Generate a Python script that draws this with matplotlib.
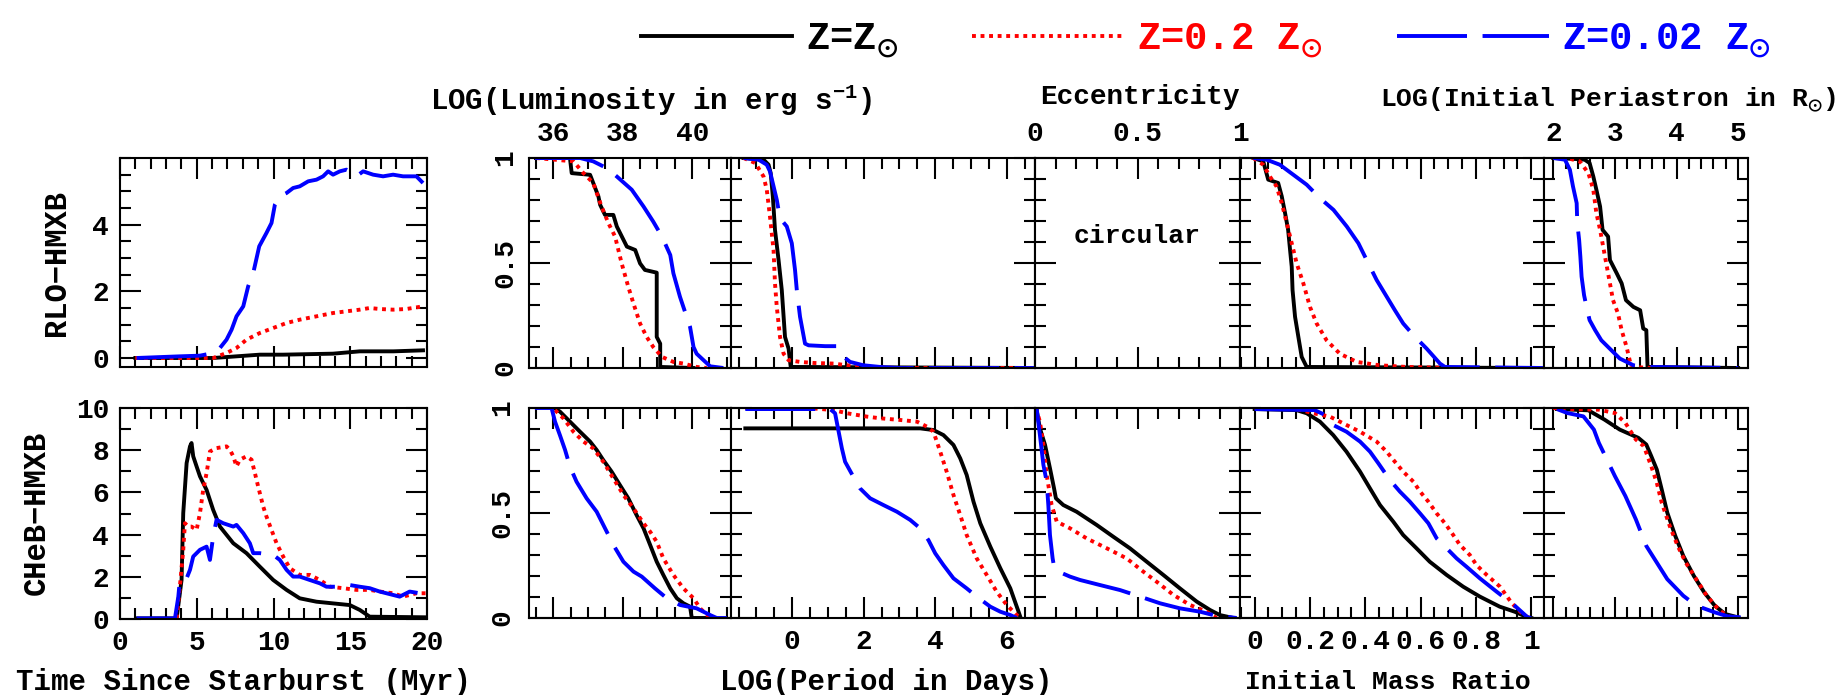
import matplotlib
matplotlib.use("Agg")
import matplotlib.pyplot as plt
from matplotlib.ticker import MultipleLocator, FixedLocator, FuncFormatter
from matplotlib.lines import Line2D

plt.rcParams['font.family'] = ['Liberation Mono', 'DejaVu Sans Mono']
plt.rcParams['font.weight'] = 'bold'
plt.rcParams['mathtext.fontset'] = 'custom'
plt.rcParams['mathtext.rm'] = 'Liberation Mono:bold'
plt.rcParams['mathtext.default'] = 'regular'

# ---------------- data ----------------
# time since starburst, RLO-HMXB numbers
t_rlo_x_solar = [1.0, 6.07, 9.11, 10.63, 13.88, 15.62, 17.82, 19.74]
t_rlo_y_solar = [0, 0, 0.1, 0.1, 0.13, 0.2, 0.2, 0.23]
t_rlo_x_02 = [1.0, 4.99, 6.07, 6.94, 7.59, 8.24, 9.11, 9.98, 10.85, 11.71, 12.80,
              13.88, 14.75, 15.62, 16.27, 16.92, 17.79, 18.66, 19.74]
t_rlo_y_02 = [0, 0, 0, 0.15, 0.30, 0.55, 0.75, 0.90, 1.05, 1.15, 1.25,
              1.35, 1.40, 1.45, 1.50, 1.47, 1.45, 1.47, 1.55]
t_rlo_x_002 = [1.08, 3.90, 5.21, 6.07, 6.51, 6.94, 7.27, 7.59, 8.03, 8.35, 8.68, 9.07,
               9.54, 9.87, 10.09, 10.41, 10.85, 11.28, 11.71, 12.26, 12.80, 13.23, 13.56,
               13.88, 14.32, 14.75, 15.18, 15.40, 15.84, 16.49, 17.14, 17.79, 18.44,
               19.31, 19.74]
t_rlo_y_002 = [0.0, 0.05, 0.07, 0.15, 0.30, 0.55, 0.85, 1.25, 1.55, 2.15, 2.55, 3.35,
               3.75, 4.05, 4.6, 4.85, 4.95, 5.10, 5.15, 5.30, 5.35, 5.45, 5.60,
               5.50, 5.60, 5.65, 5.55, 5.45, 5.60, 5.50, 5.45, 5.50, 5.45,
               5.45, 5.25]

# time since starburst, CHeB-HMXB numbers
t_cheb_x_solar = [1.08, 3.69, 4.01, 4.12, 4.34, 4.56, 4.66, 4.77, 4.99, 5.21, 5.64, 6.07,
                  6.51, 7.38, 8.24, 9.11, 9.98, 10.85, 11.71, 12.80, 13.88, 14.97, 15.62,
                  16.27, 19.96]
t_cheb_y_solar = [0.03, 0.03, 1.85, 5.02, 7.39, 8.18, 8.34, 7.71, 7.23, 6.76, 6.12, 5.17,
                  4.38, 3.59, 3.12, 2.48, 1.85, 1.38, 0.98, 0.82, 0.74, 0.66, 0.43,
                  0.11, 0.08]
t_cheb_x_02 = [3.69, 3.90, 4.12, 4.23, 4.45, 4.66, 4.99, 5.21, 5.42, 5.64, 5.86, 6.29, 6.94,
               7.16, 7.38, 7.59, 7.81, 8.24, 8.57, 8.79, 9.00, 9.33, 9.54, 9.87, 10.20,
               10.63, 11.06, 11.71, 12.36, 13.02, 13.67, 14.53, 15.40, 16.27, 16.92,
               17.79, 18.44, 19.31, 19.96]
t_cheb_y_02 = [0.03, 1.53, 3.28, 4.54, 4.38, 4.38, 4.22, 5.02, 6.12, 6.91, 7.94, 8.10, 8.18,
               8.02, 7.71, 7.23, 7.55, 7.71, 7.55, 6.91, 6.28, 5.33, 4.86, 4.22, 3.59,
               2.96, 2.41, 2.09, 2.09, 1.85, 1.53, 1.46, 1.38, 1.38, 1.30,
               1.22, 1.06, 1.22, 1.22]
t_cheb_x_002 = [1.08, 3.58, 3.80, 3.90, 4.12, 4.34, 4.56, 4.77, 5.21, 5.64, 5.86, 6.07,
                6.29, 6.72, 7.38, 7.59, 8.03, 8.46, 8.68, 9.11, 9.98, 10.41, 10.85, 11.28,
                11.71, 12.36, 13.02, 13.45, 14.10, 14.97, 15.62, 16.27, 16.92, 17.79,
                18.22, 18.87, 19.52, 19.96]
t_cheb_y_002 = [0.03, 0.03, 1.06, 1.85, 1.93, 1.93, 2.33, 2.96, 3.28, 3.43, 2.80, 3.91,
                4.70, 4.54, 4.38, 4.46, 4.07, 3.59, 3.12, 3.12, 3.04, 2.80, 2.33, 2.01,
                2.01, 1.85, 1.69, 1.53, 1.53, 1.61, 1.53, 1.46, 1.30, 1.14,
                1.06, 1.30, 1.22, 1.14]

# cumulative fractions, RLO-HMXB row
lum_rlo_x_solar = [35.5, 36.48, 36.53, 37.06, 37.30, 37.35, 37.49, 37.73, 37.83, 38.12, 38.36,
                   38.5, 38.64, 38.98, 38.98, 39.08, 39.08, 40.04]
lum_rlo_y_solar = [1.0, 1.0, 0.928, 0.920, 0.817, 0.777, 0.729, 0.729, 0.674, 0.578, 0.562,
                   0.498, 0.467, 0.454, 0.148, 0.116, 0.005, 0.0]
lum_rlo_x_02 = [35.5, 36.58, 36.87, 37.15, 37.39, 37.59, 37.78, 37.97, 38.16, 38.31, 38.5,
                38.69, 38.88, 39.13, 39.46, 39.75, 40.13, 40.42]
lum_rlo_y_02 = [1.0, 0.984, 0.928, 0.881, 0.769, 0.689, 0.626, 0.498, 0.387, 0.307, 0.212,
                0.148, 0.100, 0.053, 0.029, 0.021, 0.005, 0.0]
lum_rlo_x_002 = [35.47, 36.77, 37.15, 37.54, 37.83, 38.26, 38.6, 38.88, 39.13, 39.37, 39.46,
                 39.65, 39.94, 40.04, 40.13, 40.33, 40.52, 40.9]
lum_rlo_y_002 = [1.0, 1.0, 0.984, 0.952, 0.912, 0.849, 0.769, 0.697, 0.626, 0.538, 0.451,
                 0.339, 0.196, 0.100, 0.068, 0.037, 0.008, 0.0]

per_rlo_x_solar = [-1.36, -0.80, -0.66, -0.60, -0.54, -0.48, -0.38, -0.29, -0.20, -0.10,
                   -0.04, 6.79]
per_rlo_y_solar = [1.0, 0.992, 0.968, 0.928, 0.817, 0.658, 0.514, 0.371, 0.148, 0.092,
                   0.005, 0.0]
per_rlo_x_02 = [-1.36, -1.03, -0.80, -0.71, -0.62, -0.52, -0.48, -0.43, -0.34, -0.24, -0.10,
                0.22, 0.60, 1.16, 1.53, 2.09, 2.93, 6.79]
per_rlo_y_02 = [1.0, 0.976, 0.912, 0.849, 0.721, 0.562, 0.403, 0.291, 0.148, 0.068, 0.037,
                0.029, 0.024, 0.021, 0.013, 0.005, 0.0, 0.0]
per_rlo_x_002 = [-1.36, -0.94, -0.71, -0.62, -0.52, -0.43, -0.34, -0.15, -0.01, 0.08, 0.13,
                 0.22, 0.36, 0.46, 0.92, 1.25, 1.44, 1.62, 1.99, 2.46, 3.0, 6.79]
per_rlo_y_002 = [1.0, 0.992, 0.968, 0.936, 0.865, 0.801, 0.713, 0.674, 0.594, 0.467, 0.371,
                 0.244, 0.116, 0.108, 0.104, 0.104, 0.053, 0.029, 0.013, 0.005, 0.0, 0.0]

q_rlo_x_solar = [-0.005, 0.031, 0.049, 0.085, 0.098, 0.110, 0.121, 0.128, 0.134, 0.137,
                 0.146, 0.158, 0.170, 0.188, 1.0]
q_rlo_y_solar = [1.0, 0.984, 0.897, 0.881, 0.817, 0.737, 0.658, 0.562, 0.482, 0.371,
                 0.244, 0.148, 0.053, 0.005, 0.0]
q_rlo_x_02 = [-0.005, 0.031, 0.055, 0.079, 0.098, 0.116, 0.134, 0.152, 0.176, 0.200, 0.224,
              0.260, 0.308, 0.369, 0.451, 0.549, 0.718]
q_rlo_y_02 = [1.0, 0.968, 0.912, 0.865, 0.785, 0.690, 0.594, 0.498, 0.403, 0.291, 0.212,
              0.132, 0.068, 0.029, 0.013, 0.005, 0.0]
q_rlo_x_002 = [-0.005, 0.043, 0.091, 0.140, 0.188, 0.236, 0.285, 0.333, 0.375, 0.405, 0.441,
               0.507, 0.537, 0.574, 0.622, 0.670, 0.688, 1.046]
q_rlo_y_002 = [1.0, 0.992, 0.968, 0.920, 0.873, 0.809, 0.753, 0.674, 0.594, 0.514, 0.419,
               0.275, 0.212, 0.156, 0.092, 0.021, 0.005, 0.0]

rp_rlo_x_solar = [2.0, 2.38, 2.51, 2.59, 2.65, 2.70, 2.76, 2.80, 2.89, 2.92, 3.03, 3.11,
                  3.18, 3.30, 3.41, 3.46, 3.51, 3.53, 5.0]
rp_rlo_y_solar = [1.0, 0.995, 0.992, 0.976, 0.912, 0.849, 0.769, 0.658, 0.626, 0.514, 0.451,
                  0.403, 0.323, 0.291, 0.275, 0.188, 0.180, 0.005, 0.0]
rp_rlo_x_02 = [2.0, 2.22, 2.43, 2.57, 2.65, 2.70, 2.76, 2.81, 2.86, 2.92, 2.97, 3.05, 3.11,
               3.19, 3.24, 3.27, 3.62, 4.3]
rp_rlo_y_02 = [1.0, 1.0, 0.984, 0.928, 0.849, 0.737, 0.658, 0.578, 0.498, 0.403, 0.323,
               0.260, 0.180, 0.100, 0.037, 0.005, 0.0, 0.0]
rp_rlo_x_002 = [2.0, 2.19, 2.27, 2.32, 2.38, 2.39, 2.42, 2.44, 2.46, 2.50, 2.54, 2.59, 2.68,
                2.78, 2.89, 3.08, 3.30, 3.51, 5.0]
rp_rlo_y_002 = [1.0, 0.992, 0.944, 0.865, 0.785, 0.690, 0.610, 0.530, 0.435, 0.347, 0.291,
                0.228, 0.180, 0.132, 0.100, 0.045, 0.013, 0.005, 0.0]

# cumulative fractions, CHeB-HMXB row
lum_cheb_x_solar = [36.05, 36.19, 36.48, 36.77, 37.06, 37.25, 37.44, 37.68, 37.92, 38.16,
                    38.40, 38.60, 38.79, 38.98, 39.17, 39.37, 39.56, 39.75, 39.94, 39.99, 40.5]
lum_cheb_y_solar = [0.998, 0.983, 0.935, 0.887, 0.840, 0.800, 0.752, 0.697, 0.633, 0.570,
                    0.490, 0.427, 0.348, 0.268, 0.205, 0.141, 0.094, 0.070, 0.054, 0.0, 0.0]
lum_cheb_x_02 = [36.05, 36.29, 36.58, 36.87, 37.15, 37.44, 37.73, 38.02, 38.31, 38.60, 38.79,
                 38.98, 39.17, 39.46, 39.75, 40.04, 40.23, 40.52]
lum_cheb_y_02 = [0.990, 0.951, 0.887, 0.840, 0.808, 0.744, 0.665, 0.586, 0.522, 0.451, 0.411,
                 0.363, 0.284, 0.205, 0.141, 0.094, 0.046, 0.0]
lum_cheb_x_002 = [35.47, 35.95, 36.05, 36.19, 36.34, 36.48, 36.67, 36.96, 37.25, 37.54, 37.73,
                  38.02, 38.31, 38.55, 38.93, 39.27, 39.65, 40.13, 40.52, 40.71, 41.0]
lum_cheb_y_002 = [1.0, 1.0, 0.935, 0.871, 0.800, 0.721, 0.649, 0.570, 0.506, 0.411, 0.348,
                  0.268, 0.221, 0.197, 0.141, 0.094, 0.062, 0.046, 0.014, 0.0, 0.0]

per_cheb_x_solar = [-1.31, 3.58, 3.95, 4.23, 4.51, 4.70, 4.88, 5.07, 5.26, 5.54, 5.82, 6.10,
                    6.23, 6.33, 6.39]
per_cheb_y_solar = [0.903, 0.903, 0.895, 0.871, 0.824, 0.760, 0.681, 0.554, 0.451, 0.340,
                    0.237, 0.141, 0.078, 0.030, 0.0]
per_cheb_x_02 = [-1.31, 0.60, 1.16, 1.53, 2.09, 2.46, 3.02, 3.49, 3.77, 3.95, 4.14, 4.32, 4.51,
                 4.70, 4.88, 5.16, 5.44, 5.72, 6.00, 6.28, 6.42]
per_cheb_y_02 = [1.0, 0.998, 0.990, 0.975, 0.959, 0.951, 0.943, 0.935, 0.911, 0.887, 0.792,
                 0.697, 0.586, 0.490, 0.395, 0.284, 0.205, 0.125, 0.062, 0.014, 0.0]
per_cheb_x_002 = [-1.31, 1.06, 1.20, 1.30, 1.39, 1.48, 1.71, 1.90, 2.18, 2.55, 2.93, 3.30,
                  3.58, 3.81, 4.00, 4.23, 4.51, 4.88, 5.16, 5.54, 5.82, 6.10, 6.28]
per_cheb_y_002 = [0.995, 0.995, 0.975, 0.887, 0.808, 0.744, 0.673, 0.617, 0.570, 0.538, 0.506,
                  0.467, 0.427, 0.371, 0.308, 0.252, 0.189, 0.141, 0.102, 0.054, 0.030,
                  0.014, 0.0]

ecc_cheb_x_solar = [0.008, 0.024, 0.049, 0.073, 0.093, 0.102, 0.138, 0.203, 0.301, 0.382,
                    0.463, 0.545, 0.626, 0.707, 0.789, 0.854, 0.902, 0.967]
ecc_cheb_y_solar = [0.990, 0.903, 0.824, 0.713, 0.617, 0.570, 0.538, 0.506, 0.443, 0.387,
                    0.332, 0.268, 0.205, 0.141, 0.078, 0.038, 0.014, 0.0]
ecc_cheb_x_02 = [0.005, 0.024, 0.041, 0.057, 0.081, 0.106, 0.171, 0.252, 0.350, 0.447, 0.528,
                 0.593, 0.675, 0.756, 0.837, 0.886]
ecc_cheb_y_02 = [0.998, 0.935, 0.824, 0.681, 0.538, 0.459, 0.427, 0.379, 0.332, 0.284, 0.221,
                 0.173, 0.110, 0.062, 0.030, 0.0]
ecc_cheb_x_002 = [0.008, 0.024, 0.041, 0.057, 0.065, 0.073, 0.086, 0.093, 0.114, 0.171, 0.220,
                  0.317, 0.415, 0.512, 0.610, 0.707, 0.805, 0.870, 0.984]
ecc_cheb_y_002 = [0.998, 0.871, 0.729, 0.649, 0.538, 0.395, 0.284, 0.244, 0.221, 0.197, 0.181,
                  0.157, 0.133, 0.102, 0.070, 0.046, 0.030, 0.014, 0.0]

q_cheb_x_solar = [0.0, 0.151, 0.188, 0.236, 0.284, 0.332, 0.381, 0.417, 0.453, 0.501, 0.537,
                  0.585, 0.633, 0.694, 0.754, 0.814, 0.862, 0.886, 0.94, 0.987, 1.0]
q_cheb_y_solar = [0.995, 0.990, 0.975, 0.935, 0.871, 0.792, 0.697, 0.617, 0.538, 0.459, 0.395,
                  0.332, 0.268, 0.205, 0.149, 0.102, 0.070, 0.054, 0.030, 0.003, 0.0]
q_cheb_x_02 = [0.0, 0.151, 0.212, 0.272, 0.332, 0.381, 0.441, 0.477, 0.507, 0.537, 0.574,
               0.598, 0.628, 0.658, 0.688, 0.718, 0.742, 0.778, 0.802, 0.839, 0.887, 0.93,
               0.96, 0.99]
q_cheb_y_02 = [1.0, 0.995, 0.975, 0.959, 0.919, 0.887, 0.840, 0.792, 0.744, 0.697, 0.649,
               0.602, 0.554, 0.498, 0.451, 0.395, 0.348, 0.300, 0.252, 0.205, 0.149, 0.07,
               0.03, 0.0]
q_cheb_x_002 = [0.0, 0.217, 0.254, 0.284, 0.332, 0.381, 0.417, 0.447, 0.489, 0.525, 0.561,
                0.598, 0.628, 0.658, 0.694, 0.730, 0.766, 0.814, 0.875, 0.940, 0.987, 1.0]
q_cheb_y_002 = [0.995, 0.990, 0.967, 0.919, 0.887, 0.840, 0.792, 0.737, 0.657, 0.602, 0.554,
                0.498, 0.451, 0.379, 0.332, 0.284, 0.244, 0.189, 0.125, 0.059, 0.003, 0.0]

rp_cheb_x_solar = [2.06, 2.57, 2.83, 3.08, 3.38, 3.51, 3.59, 3.68, 3.76, 3.85, 3.98, 4.11,
                   4.28, 4.45, 4.62, 4.79, 5.00]
rp_cheb_y_solar = [0.995, 0.989, 0.945, 0.897, 0.858, 0.826, 0.771, 0.707, 0.612, 0.502,
                   0.391, 0.296, 0.201, 0.122, 0.059, 0.019, 0.003]
rp_cheb_x_02 = [2.0, 2.23, 2.74, 3.00, 3.17, 3.34, 3.47, 3.59, 3.68, 3.76, 3.89, 4.02, 4.15,
                4.32, 4.49, 4.70, 4.87]
rp_cheb_y_02 = [1.0, 0.995, 0.992, 0.976, 0.929, 0.850, 0.818, 0.723, 0.644, 0.549, 0.438,
                0.343, 0.264, 0.185, 0.106, 0.035, 0.003]
rp_cheb_x_002 = [2.06, 2.23, 2.49, 2.66, 2.74, 2.87, 3.00, 3.17, 3.34, 3.51, 3.68, 3.85, 4.11,
                 4.32, 4.62, 4.83, 5.04]
rp_cheb_y_002 = [0.995, 0.976, 0.960, 0.897, 0.834, 0.755, 0.676, 0.581, 0.470, 0.343, 0.264,
                 0.185, 0.106, 0.059, 0.027, 0.008, 0.003]

legend_labels = [r'Z=Z$_{\odot}$', r'Z=0.2 Z$_{\odot}$', r'Z=0.02 Z$_{\odot}$']
line_colors = ['black', 'red', 'blue']
line_styles = ['-', (0, (1, 1.2)), (0, (18, 4))]

# ---------------- layout (pixels of the 1843x695 picture) ----------------
W, H = 1843, 695
fig = plt.figure(figsize=(W / 100, H / 100), dpi=100)


def box(x0, x1, y0, y1):
    return [x0 / W, 1 - y1 / H, (x1 - x0) / W, (y1 - y0) / H]


def frame(ax, xlim, ylim, xmaj, xmin, ymaj, ymin):
    ax.set_xlim(xlim)
    ax.set_ylim(ylim)
    ax.xaxis.set_major_locator(xmaj)
    ax.xaxis.set_minor_locator(MultipleLocator(xmin))
    ax.yaxis.set_major_locator(ymaj)
    ax.yaxis.set_minor_locator(MultipleLocator(ymin))
    ax.tick_params(which='both', direction='in', top=True, right=True, bottom=True, left=True,
                   labelbottom=False, labelleft=False, labeltop=False, labelright=False,
                   width=1.5, labelsize=20)
    ax.tick_params(which='major', length=15)
    ax.tick_params(which='minor', length=8)
    ax.xaxis.set_major_formatter(FuncFormatter(lambda v, p: f'{v:g}'))
    ax.yaxis.set_major_formatter(FuncFormatter(lambda v, p: f'{v:g}'))
    for s in ax.spines.values():
        s.set_linewidth(1.5)


def curves(ax, xs, ys):
    for x, y, c, ls in zip(xs, ys, line_colors, line_styles):
        ax.plot(x, y, color=c, ls=ls, lw=2.8)


# time panels
ax_t1 = fig.add_axes(box(120, 427, 158, 367))
frame(ax_t1, (0, 20), (-0.27, 6.0), MultipleLocator(5), 1, FixedLocator([0, 2, 4]), 0.5)
ax_t1.tick_params(labelleft=True, pad=8)
curves(ax_t1, [t_rlo_x_solar, t_rlo_x_02, t_rlo_x_002], [t_rlo_y_solar, t_rlo_y_02, t_rlo_y_002])

ax_t2 = fig.add_axes(box(120, 427, 408, 619))
frame(ax_t2, (0, 20), (0, 10), MultipleLocator(5), 1, MultipleLocator(2), 1)
ax_t2.tick_params(labelleft=True, labelbottom=True, pad=8)
curves(ax_t2, [t_cheb_x_solar, t_cheb_x_02, t_cheb_x_002], [t_cheb_y_solar, t_cheb_y_02, t_cheb_y_002])

# cumulative distribution panels
cols = [(529, 731, (35.30, 41.12), MultipleLocator(2), 0.5),
        (731, 1035, (-1.71, 6.79), MultipleLocator(2), 0.5),
        (1035, 1240, (0, 1), MultipleLocator(0.5), 0.1),
        (1240, 1544, (-0.053, 1.046), MultipleLocator(0.2), 0.05),
        (1544, 1748, (1.85, 5.16), MultipleLocator(1), 0.2)]
rows = [(158, 368), (408, 618)]

row_data = [
    [([lum_rlo_x_solar, lum_rlo_x_02, lum_rlo_x_002], [lum_rlo_y_solar, lum_rlo_y_02, lum_rlo_y_002]),
     ([per_rlo_x_solar, per_rlo_x_02, per_rlo_x_002], [per_rlo_y_solar, per_rlo_y_02, per_rlo_y_002]),
     None,
     ([q_rlo_x_solar, q_rlo_x_02, q_rlo_x_002], [q_rlo_y_solar, q_rlo_y_02, q_rlo_y_002]),
     ([rp_rlo_x_solar, rp_rlo_x_02, rp_rlo_x_002], [rp_rlo_y_solar, rp_rlo_y_02, rp_rlo_y_002])],
    [([lum_cheb_x_solar, lum_cheb_x_02, lum_cheb_x_002], [lum_cheb_y_solar, lum_cheb_y_02, lum_cheb_y_002]),
     ([per_cheb_x_solar, per_cheb_x_02, per_cheb_x_002], [per_cheb_y_solar, per_cheb_y_02, per_cheb_y_002]),
     ([ecc_cheb_x_solar, ecc_cheb_x_02, ecc_cheb_x_002], [ecc_cheb_y_solar, ecc_cheb_y_02, ecc_cheb_y_002]),
     ([q_cheb_x_solar, q_cheb_x_02, q_cheb_x_002], [q_cheb_y_solar, q_cheb_y_02, q_cheb_y_002]),
     ([rp_cheb_x_solar, rp_cheb_x_02, rp_cheb_x_002], [rp_cheb_y_solar, rp_cheb_y_02, rp_cheb_y_002])]]

for r, (y0, y1) in enumerate(rows):
    for c, (x0, x1, xlim, xmaj, xmin) in enumerate(cols):
        ax = fig.add_axes(box(x0, x1, y0, y1))
        frame(ax, xlim, (0, 1), xmaj, xmin, FixedLocator([0, 0.5, 1]), 0.1)
        if c == 0:
            ax.tick_params(labelleft=True, pad=10)
            for lab in ax.get_yticklabels():
                lab.set_rotation(90)
                lab.set_va('center')
        if r == 0 and c in (0, 2, 4):
            ax.tick_params(labeltop=True, pad=8)
        if r == 1 and c in (1, 3):
            ax.tick_params(labelbottom=True, pad=8)
        if row_data[r][c] is not None:
            curves(ax, *row_data[r][c])
        if r == 0 and c == 2:
            ax.text(0.5, 0.63, 'circular', transform=ax.transAxes, ha='center', va='center',
                    fontsize=19)

# axis titles
fs = 21
fig.text(244 / W, 1 - 682 / H, 'Time Since Starburst (Myr)', ha='center', va='center', fontsize=fs)
fig.text(57 / W, 1 - 263 / H, 'RLO\u2212HMXB', ha='center', va='center', rotation=90, fontsize=22)
fig.text(37 / W, 1 - 513 / H, 'CHeB\u2212HMXB', ha='center', va='center', rotation=90, fontsize=22)
fig.text(651 / W, 1 - 100 / H, r'LOG(Luminosity in erg s$^{-1}$)', ha='center', va='center', fontsize=fs)
fig.text(1140 / W, 1 - 97 / H, 'Eccentricity', ha='center', va='center', fontsize=20)
fig.text(1836 / W, 1 - 100 / H, r'LOG(Initial Periastron in R$_{\odot}$)', ha='right', va='center',
         fontsize=19)
fig.text(886 / W, 1 - 682 / H, 'LOG(Period in Days)', ha='center', va='center', fontsize=fs)
fig.text(1388 / W, 1 - 682 / H, 'Initial Mass Ratio', ha='center', va='center', fontsize=19)

# legend
handles = [Line2D([], [], color=c, ls=ls, lw=2.8) for c, ls in zip(line_colors, line_styles)]
fig.legend(handles, legend_labels, loc='center', bbox_to_anchor=(1206 / W, 1 - 41 / H), ncol=3,
           frameon=False, fontsize=28, handlelength=3.9, handletextpad=0.35, columnspacing=1.9,
           labelcolor=line_colors)

fig.savefig('out.png', dpi=100)
